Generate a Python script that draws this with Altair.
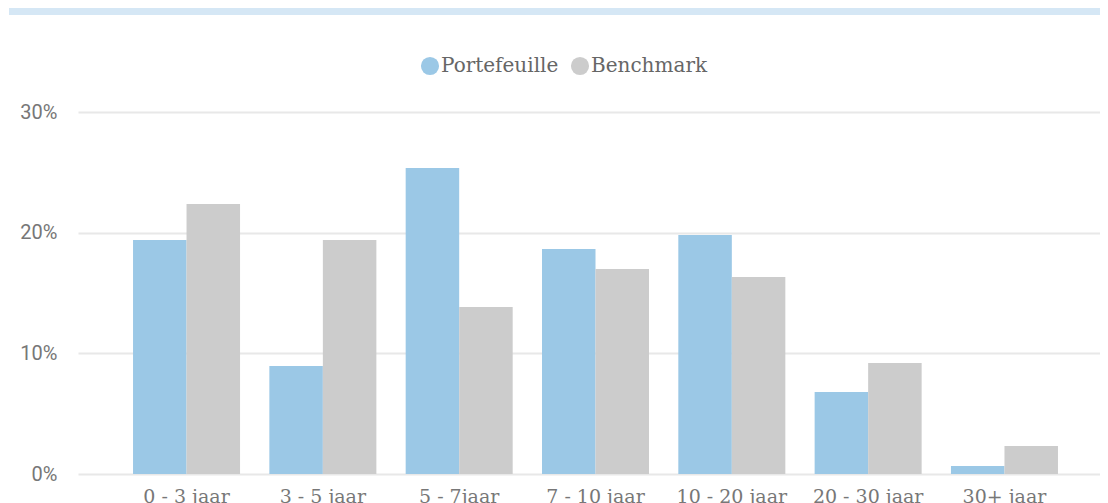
import altair as alt
import pandas as pd

categories = ["0 - 3 jaar", "3 - 5 jaar", "5 - 7jaar", "7 - 10 jaar",
              "10 - 20 jaar", "20 - 30 jaar", "30+ jaar"]
series = ["Portefeuille", "Benchmark"]
portefeuille = [0.194, 0.0895, 0.2536, 0.1865, 0.198, 0.068, 0.0066]
benchmark = [0.2237, 0.194, 0.1384, 0.1699, 0.1633, 0.092, 0.0232]
colors = ["#9BC8E6", "#CCCCCC"]
y_ticks = [0, 0.1, 0.2, 0.3]

rows = []
for c, p, b in zip(categories, portefeuille, benchmark):
    rows.append({"cat": c, "series": "Portefeuille", "value": p})
    rows.append({"cat": c, "series": "Benchmark", "value": b})
df = pd.DataFrame(rows)

bars = alt.Chart(df).mark_bar().encode(
    x=alt.X("cat:N", sort=categories, title=None,
            scale=alt.Scale(paddingInner=0.215, paddingOuter=0.356, align=0.567),
            axis=alt.Axis(labelAngle=0, ticks=False, domain=False,
                          labelFont="DejaVu Serif", labelFontSize=19,
                          labelColor="#777777", labelPadding=13)),
    xOffset=alt.XOffset("series:N", sort=series,
                        scale=alt.Scale(paddingInner=0, paddingOuter=0)),
    y=alt.Y("value:Q", title=None,
            scale=alt.Scale(domain=[0, 0.3], nice=False),
            axis=alt.Axis(values=y_ticks, format=".0%", ticks=False, domain=False,
                          labelFont="Roboto", labelFontSize=20,
                          labelColor="#777777", labelPadding=21,
                          gridColor="#E8E8E8", gridWidth=2)),
    color=alt.Color("series:N", sort=series,
                    scale=alt.Scale(domain=series, range=colors),
                    legend=alt.Legend(title=None, orient="none", direction="horizontal",
                                      legendX=342, legendY=-56,
                                      symbolType="circle", symbolSize=330,
                                      symbolStrokeWidth=0, symbolOpacity=1,
                                      labelFont="DejaVu Serif", labelFontSize=20,
                                      labelColor="#666666", labelOffset=1,
                                      columnPadding=11, padding=0)),
)

banner = alt.Chart(pd.DataFrame({"b": [0]})).mark_rect(color="#D5E7F5").encode(
    x=alt.value(-69), x2=alt.value(1040), y=alt.value(-104), y2=alt.value(-97)
)

chart = alt.layer(banner, bars).properties(
    width=1022, height=362,
    autosize=alt.AutoSizeParams(type="none"),
    padding={"left": 70, "top": 104, "right": 0, "bottom": 29},
).configure_view(stroke=None)

chart.save("out.html", embed_options={"renderer": "svg", "actions": False})
